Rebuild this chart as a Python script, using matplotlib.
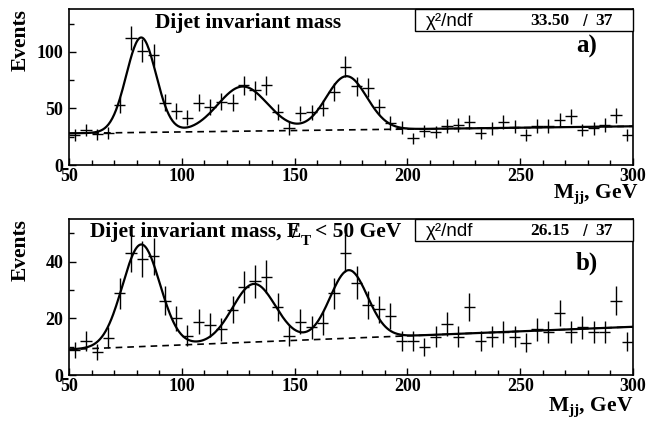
import numpy as np
import matplotlib
matplotlib.use('Agg')
import matplotlib.pyplot as plt
from matplotlib.ticker import MultipleLocator
from matplotlib.patches import Rectangle

plt.rcParams['font.family'] = ['Liberation Serif', 'DejaVu Serif']
plt.rcParams['font.weight'] = 'bold'
plt.rcParams['axes.labelweight'] = 'bold'
plt.rcParams['mathtext.fontset'] = 'custom'
plt.rcParams['mathtext.rm'] = 'Liberation Serif:bold'
plt.rcParams['mathtext.it'] = 'Liberation Serif:bold'
plt.rcParams['mathtext.bf'] = 'Liberation Serif:bold'

# bin centres, 5 GeV bins from 50 to 300
mjj = np.arange(52.5, 300, 5.0)

counts_a = [26.5, 31, 27, 28.5, 53, 112.6, 101, 97.6, 55, 47.6,
            41.8, 55, 51, 56, 55, 70.6, 66, 70.6, 47, 32.4,
            45.6, 46.5, 50, 64.7, 86.8, 69.7, 68.5, 51, 37, 33,
            23.5, 30, 29.4, 34.4, 35.3, 38, 28, 32.4, 38, 33.8,
            26.5, 34.4, 34.4, 39.7, 43, 31, 32.4, 35.3, 44, 26.5]

counts_b = [8.8, 12.1, 8.2, 13.2, 28.8, 43, 41, 41.8, 26.2, 20,
            13.8, 18.8, 17.6, 16.1, 23, 31, 33, 34.7, 23.9, 13.8,
            18.8, 16.8, 18.2, 28.8, 43, 32.6, 24.7, 23.2, 20.8, 12,
            12, 10, 13.5, 18, 13.5, 24.1, 12.1, 13.5, 15, 13.5,
            11.4, 16.1, 15.3, 21.8, 15.3, 16.8, 15.3, 15.3, 26.2, 11.8]

# fit: linear background + three gaussians (amp, mean, sigma)
bkg_a = (28.0, 0.025)
peaks_a = [(84, 82, 6.6), (39.5, 127, 11.0), (47.5, 173, 9.0)]
bkg_b = (9.0, 0.032)
peaks_b = [(36, 82, 8.3), (20.5, 132, 9.5), (24, 174, 8.3)]

chi2_a = ('33.50', '37')
chi2_b = ('26.15', '37')


def fitfunc(x, bkg, peaks):
    y = bkg[0] + bkg[1] * (x - 50)
    for a, m, s in peaks:
        y = y + a * np.exp(-0.5 * ((x - m) / s) ** 2)
    return y


fig = plt.figure(figsize=(6.56, 4.24), dpi=100)
ax_a = fig.add_axes([69 / 656, 1 - 165 / 424, 564 / 656, 156 / 424])
ax_b = fig.add_axes([69 / 656, 1 - 375 / 424, 564 / 656, 156 / 424])

xs = np.linspace(50, 300, 600)


def draw_panel(ax, counts, bkg, peaks, ymax, ymaj, ymin, chi2, tag, tag_y, lab_x, lab_y):
    counts = np.array(counts)
    ax.errorbar(mjj, counts, yerr=np.sqrt(counts), xerr=2.5, fmt='none',
                ecolor='black', elinewidth=1.0, capsize=0)
    ax.plot(xs, bkg[0] + bkg[1] * (xs - 50), color='black', lw=1.2,
            ls=(0, (4, 3)))
    ax.plot(xs, fitfunc(xs, bkg, peaks), color='black', lw=1.6)
    ax.set_xlim(50, 300)
    ax.set_ylim(0, ymax)
    ax.xaxis.set_major_locator(MultipleLocator(50))
    ax.xaxis.set_minor_locator(MultipleLocator(10))
    ax.yaxis.set_major_locator(MultipleLocator(ymaj))
    ax.yaxis.set_minor_locator(MultipleLocator(ymin))
    ax.tick_params(which='both', direction='in', top=False, right=False,
                   labelsize=13, width=1.0)
    ax.tick_params(axis='x', which='both', pad=2)
    ax.tick_params(axis='y', which='both', pad=4)
    ax.tick_params(which='major', length=5)
    ax.tick_params(which='minor', length=3.5)
    for sp in ax.spines.values():
        sp.set_linewidth(1.2)
    ax.set_ylabel('Events', fontsize=15.5, loc='top', fontweight='bold')
    ax.yaxis.set_label_coords(-0.068, 1.0)
    # chi2 box
    ax.add_patch(Rectangle((0.613, 0.857), 0.387, 0.143, transform=ax.transAxes,
                           facecolor='white', edgecolor='black', lw=1.0,
                           zorder=5, clip_on=False))
    ax.text(0.632, 0.922, 'χ²/ndf', transform=ax.transAxes, fontsize=13.5,
            family=['Liberation Sans', 'DejaVu Sans'], weight='normal',
            va='center', zorder=6)
    ax.text(0.888, 0.925, chi2[0], transform=ax.transAxes, fontsize=12.5,
            ha='right', va='center', zorder=6)
    ax.text(0.916, 0.922, '/', transform=ax.transAxes, fontsize=12.5,
            family=['Liberation Sans', 'DejaVu Sans'], weight='normal',
            ha='center', va='center', zorder=6)
    ax.text(0.963, 0.925, chi2[1], transform=ax.transAxes, fontsize=12.5,
            ha='right', va='center', zorder=6)
    ax.text(0.918, tag_y, tag, transform=ax.transAxes, fontsize=18,
            ha='center', va='baseline')
    ax.text(lab_x, lab_y, 'M$_{jj}$, GeV', transform=ax.transAxes,
            fontsize=15.5, ha='right', va='center', clip_on=False)


draw_panel(ax_a, counts_a, bkg_a, peaks_a, 138, 50, 25, chi2_a, 'a)', 0.718,
           1.009, -0.19)
draw_panel(ax_b, counts_b, bkg_b, peaks_b, 55, 20, 10, chi2_b, 'b)', 0.673,
           1.0, -0.205)

ax_a.text(0.152, 0.878, 'Dijet invariant mass', transform=ax_a.transAxes,
          fontsize=15.5, va='baseline')

# title of panel b with missing-ET symbol built from pieces
renderer = fig.canvas.get_renderer()
x0, y0 = 0.037, 0.885
t1 = ax_b.text(x0, y0, 'Dijet invariant mass, E', transform=ax_b.transAxes,
               fontsize=15.5, va='baseline')
bb1 = t1.get_window_extent(renderer)
tE = ax_b.text(0, 0, 'E', fontsize=15.5)
wE = tE.get_window_extent(renderer).width
tE.remove()
inv = ax_b.transAxes.inverted()
p_end = inv.transform((bb1.x1, 0))[0]
p_mid = inv.transform((bb1.x1 - wE * 0.5, 0))[0]
ax_b.text(p_mid, y0 - 0.01, '/', transform=ax_b.transAxes, fontsize=15,
          va='baseline', ha='center')
t2 = ax_b.text(p_end, y0 - 0.05, 'T', transform=ax_b.transAxes, fontsize=11,
               va='baseline')
bb2 = t2.get_window_extent(renderer)
p_end2 = inv.transform((bb2.x1 + 4, 0))[0]
ax_b.text(p_end2, y0, '< 50 GeV', transform=ax_b.transAxes, fontsize=15.5,
          va='baseline')

fig.savefig('out.png', dpi=100)
